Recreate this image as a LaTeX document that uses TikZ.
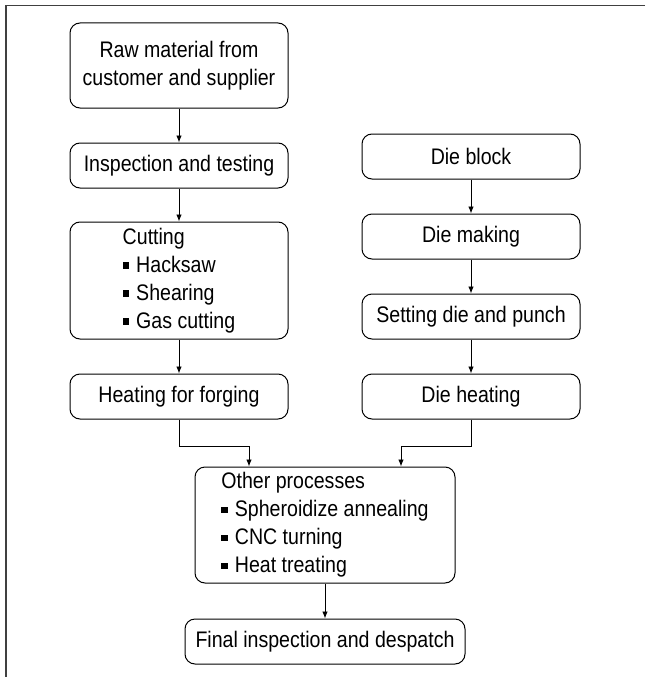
\documentclass[tikz,border=0pt]{standalone}
\usepackage{fontspec}
\setmainfont[FakeStretch=0.87]{Liberation Sans}
\usetikzlibrary{positioning,calc,arrows.meta}

\newcommand{\sqbullet}{\raisebox{3.5pt}{\rule{6.5pt}{6.5pt}}\hspace*{7pt}}

\tikzset{
  procbox/.style={draw, line width=1pt, rounded corners=10pt, inner sep=3pt,
    minimum width=218pt, minimum height=45pt, align=center,
    font=\fontsize{22.5}{28}\selectfont},
  listbox/.style={procbox, align=left},
  flow/.style={line width=0.9pt, -{Latex[length=7pt,width=5.5pt]}},
}

\begin{document}
\begin{tikzpicture}[node distance=34pt]
            \useasboundingbox (0,0) rectangle (645pt,-677pt);
            % frame
            \draw[line width=1.5pt, black!75] (645pt,-5.5pt) -- (6pt,-5.5pt) -- (6pt,-677pt);

            % job side
            \node[procbox, minimum height=85pt] (raw) at (179pt,-65.5pt) {Raw material from\\customer and supplier};
            \node[procbox, below=of raw] (insp) {Inspection and testing};
            \node[listbox, below=33pt of insp, minimum height=117pt] (cut) {Cutting\\\sqbullet{}Hacksaw\\\sqbullet{}Shearing\\\sqbullet{}Gas cutting};
            \node[procbox, below=of cut] (heatf) {Heating for forging};

            % die side
            \node[procbox, right=73pt of heatf] (dieheat) {Die heating};
            \node[procbox, above=of dieheat] (setdie) {Setting die and punch};
            \node[procbox, above=of setdie] (diemake) {Die making};
            \node[procbox, above=of diemake] (dieblock) {Die block};

            \coordinate (mid) at ($(heatf.south)!0.5!(dieheat.south)$);
            \node[listbox, below=47pt of mid, minimum width=260pt, minimum height=116pt] (other)
                {Other processes\\\sqbullet{}Spheroidize annealing\\\sqbullet{}CNC turning\\\sqbullet{}Heat treating};
            \node[procbox, below=35pt of other, minimum width=280pt] (final) {Final inspection and despatch};

            \draw[flow] (raw) -- (insp);
            \draw[flow] (insp) -- (cut);
            \draw[flow] (cut) -- (heatf);
            \draw[flow] (dieblock) -- (diemake);
            \draw[flow] (diemake) -- (setdie);
            \draw[flow] (setdie) -- (dieheat);
            \draw[flow] (heatf.south) -- ++(0,-27pt) -| ([xshift=-76pt]other.north);
            \draw[flow] (dieheat.south) -- ++(0,-27pt) -| ([xshift=76pt]other.north);
            \draw[flow] (other) -- (final);
\end{tikzpicture}
\end{document}
